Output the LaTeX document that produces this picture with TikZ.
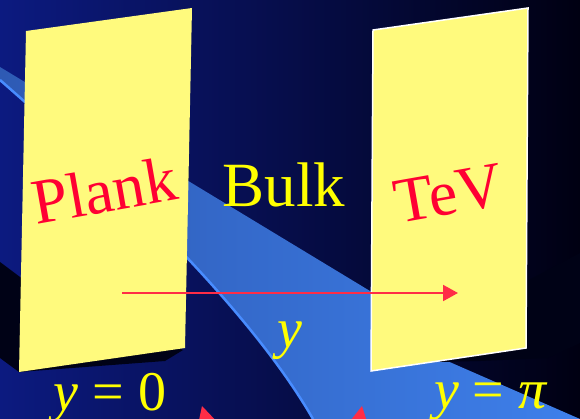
\documentclass[tikz,border=0pt]{standalone}
\usepackage{fontspec}
\setmainfont{Liberation Serif}
\usetikzlibrary{arrows.meta}
\definecolor{bgL}{RGB}{12,26,128}
\definecolor{bgR}{RGB}{0,0,18}
\definecolor{bandL}{RGB}{46,90,180}
\definecolor{bandR}{RGB}{62,128,235}
\definecolor{bandEdge}{RGB}{72,140,255}
\definecolor{panelY}{RGB}{255,250,125}
\definecolor{shadowC}{RGB}{0,2,22}
\definecolor{labelRed}{RGB}{255,0,51}
\definecolor{arrowRed}{RGB}{255,45,70}
\definecolor{labelYellow}{RGB}{255,255,0}
\begin{document}
\begin{tikzpicture}[x=1pt,y=-1pt,
  panel/.style={fill=panelY},
  shadowpoly/.style={fill=shadowC},
  redlabel/.style={text=labelRed, font=\fontsize{64}{70}\selectfont, inner sep=0pt, anchor=base},
  yellabel/.style={text=labelYellow, inner sep=0pt, anchor=base},
  mathfont/.style={font=\fontsize{56}{60}\selectfont},
  redarrow/.style={arrowRed, line width=2pt, -{Triangle[length=15pt,width=16pt]}},
  tipfill/.style={fill=arrowRed}
]
\path[use as bounding box] (0,0) rectangle (580,419);
\clip (0,0) rectangle (580,419);
% background
\shade[left color=bgL, right color=bgR] (0,0) rectangle (580,419);
% bulk band
\shade[left color=bandL, right color=bandR] (0,67) -- (370,291) -- (445,360) -- (580,419) -- (313,419)
  .. controls (250,310) and (120,185) .. (0,80) -- cycle;
\draw[bandEdge, line width=2.5pt] (0,80) .. controls (120,185) and (250,310) .. (313,419);
% shadows
\fill[shadowpoly] (0,262) -- (40,292) -- (183,350) -- (165,361) -- (19,372) -- (0,358) -- cycle;
\fill[shadowpoly] (500,290) -- (527,281) -- (580,253) -- (580,343) -- (548,358) -- (480,361) -- (440,362) -- cycle;
% panels
\coordinate (pa) at (26,31);
\coordinate (pb) at (192,8);
\coordinate (pc) at (185,348);
\coordinate (pd) at (19,372);
\coordinate (ta) at (373,30);
\coordinate (tb) at (528,8);
\coordinate (tc) at (526,348);
\coordinate (td) at (371,371);
\fill[panel] (pa) -- (pb) -- (pc) -- (pd) -- cycle;
\draw[panel, draw=white, line width=1.5pt] (ta) -- (tb) -- (tc) -- (td) -- cycle;
% labels
\node[redlabel, rotate=10] (plank) at (108,212) {Plank};
\node[redlabel, rotate=10] (tev) at (452,214) {TeV};
\node[yellabel, font=\fontsize{63}{70}\selectfont] (bulk) at (284,207) {Bulk};
\node[yellabel, mathfont] (ylab) at (290,347) {\textit{y}};
\node[yellabel, mathfont] (yzero) at (110,410) {\textit{y} = 0};
\node[yellabel, mathfont] (ypi) at (491,408) {\textit{y} = \textit{π}};
% arrow
\coordinate (astart) at (122,293);
\coordinate (aend) at (458,293);
\draw[redarrow] (astart) -- (aend);
% cut-off arrow tips at the bottom
\fill[tipfill] (202,406) -- (198,425) -- (220,425) -- cycle;
\fill[tipfill] (362,406) -- (347,425) -- (368,425) -- cycle;
\end{tikzpicture}
\end{document}
